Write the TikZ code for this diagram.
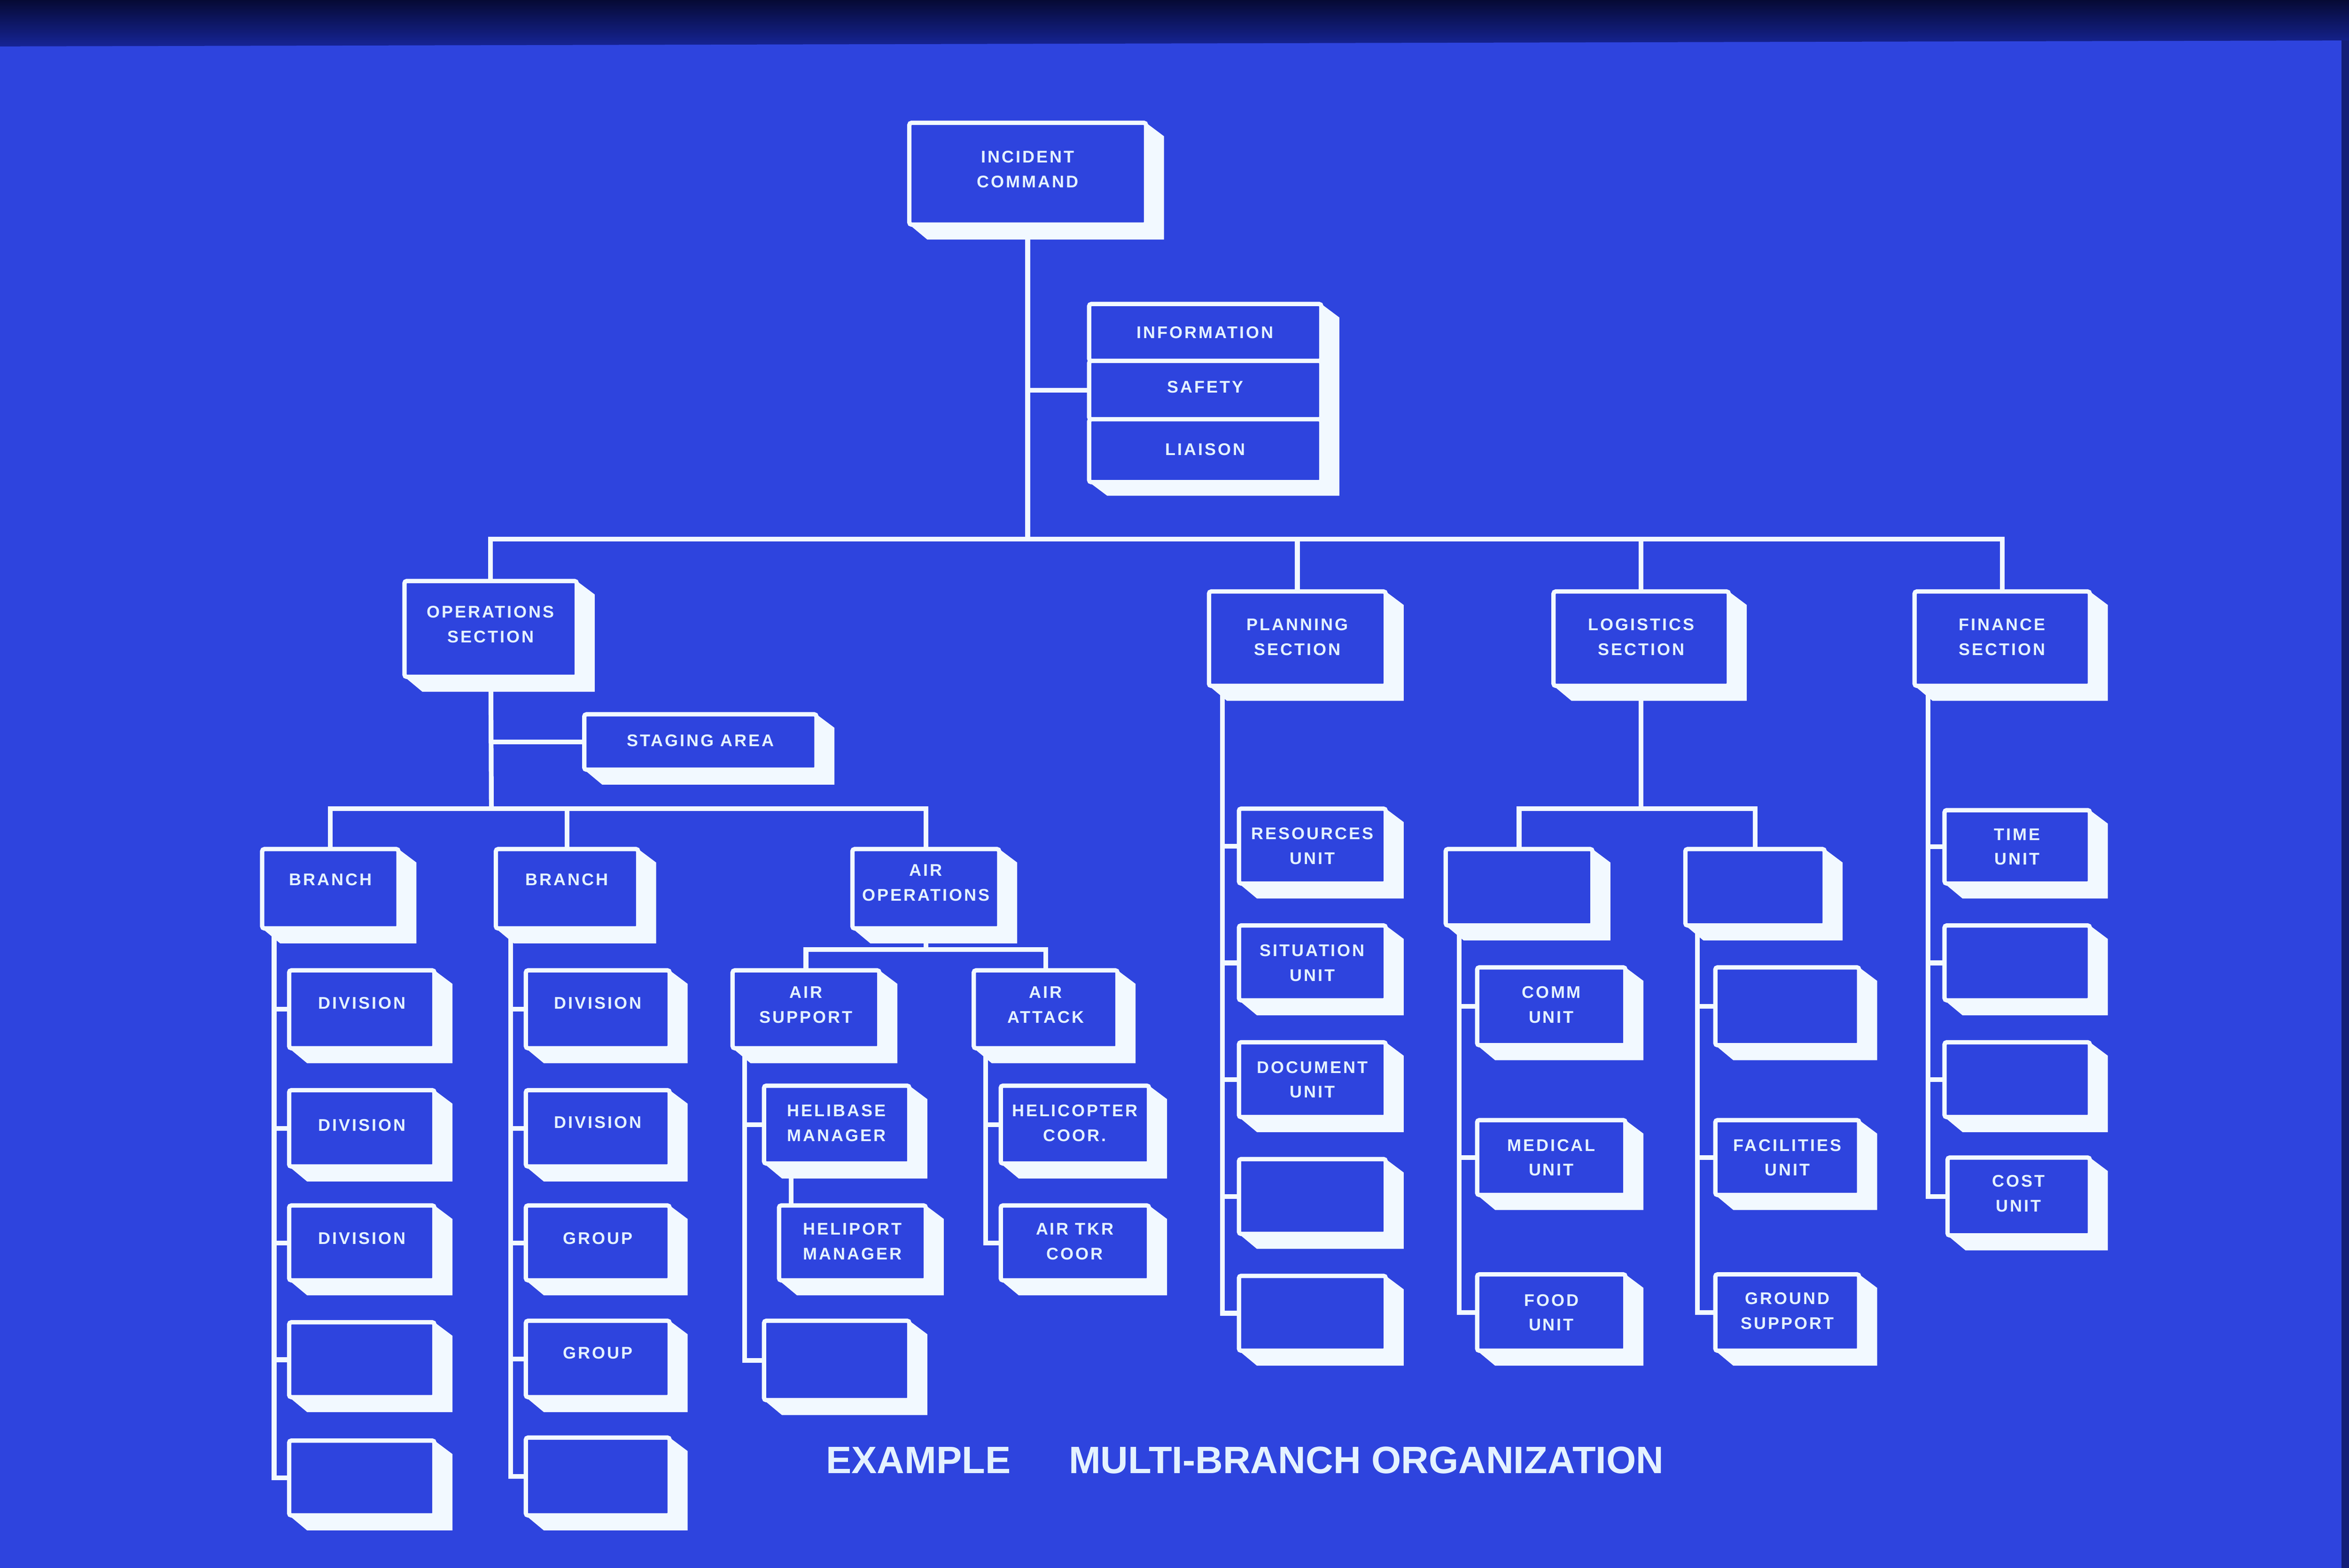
\documentclass[tikz,border=0pt]{standalone}
\usepackage{fontspec}
\setmainfont{Liberation Sans}
\newfontfamily\boxfont[LetterSpace=11]{Liberation Sans}
\newfontfamily\titlefont{Liberation Sans}
\usetikzlibrary{calc}
\definecolor{bgblue}{RGB}{46,68,222}
\definecolor{topnavy}{RGB}{6,10,52}
\definecolor{bandblue}{RGB}{22,36,150}
\definecolor{edgeblue}{RGB}{20,30,120}
\definecolor{inkwhite}{RGB}{242,249,255}
\definecolor{txtwhite}{RGB}{228,242,255}
\pgfdeclarelayer{ground}
\pgfdeclarelayer{wires}
\pgfsetlayers{ground,wires,main}
\tikzset{
  orgbox/.style={draw=inkwhite,fill=bgblue,line width=2.9pt,rounded corners=1.5pt,
    inner sep=0pt,outer sep=0pt},
  boxtxt/.style={font=\boxfont\bfseries\fontsize{11.3}{16.5}\selectfont,text=txtwhite,
    align=center,inner sep=0pt},
  titletxt/.style={font=\titlefont\bfseries\fontsize{25.5}{30}\selectfont,text=txtwhite,inner sep=0pt},
  wire/.style={draw=inkwhite,line width=3.2pt},
  extrude/.style={fill=inkwhite}
}
% \obox[text raise]{name}{L}{T}{R}{B}{text}
\newcommand\obox[7][3]{%
  \fill[extrude] (#5,#4) -- (#5+12,#4+9) -- (#5+12,#6+10) -- (#3+12,#6+10) -- (#3,#6) -- cycle;
  \pgfmathsetmacro\obw{#5-#3}%
  \pgfmathsetmacro\obh{#6-#4}%
  \node[orgbox,minimum width=\obw pt,minimum height=\obh pt] (#2) at ({(#3+#5)/2},{(#4+#6)/2}) {};
  \node[boxtxt] (#2-t) at ([yshift=#1pt]#2.center) {#7};
}
% \spinewire{parent}{xoffset}{last child}{other children}
\newcommand\spinewire[4]{%
  \coordinate (#1-sp) at ([xshift=#2pt]#1.west);
  \draw[wire] (#1-sp) |- (#3.west);
  \foreach \c in {#4} {\draw[wire] (#1-sp |- \c.west) -- (\c.west);}
}
\begin{document}
\begin{tikzpicture}[x=1pt,y=-1pt]
\useasboundingbox (0,0) rectangle (1568,1047);
\begin{pgfonlayer}{ground}
  \fill[bgblue] (0,0) rectangle (1568,1047);
  \shade[top color=topnavy,bottom color=bandblue] (0,0) -- (1568,0) -- (1568,27) -- (0,31) -- cycle;
  \fill[edgeblue] (1563,27) rectangle (1568,1047);
\end{pgfonlayer}

% ---- boxes ----
\obox{ic}{607}{82}{765}{150}{INCIDENT\\COMMAND}
\fill[extrude] (882,203) -- (894,212) -- (894,331) -- (739,331) -- (727,322) -- cycle;
\node[orgbox,minimum width=155pt,minimum height=38pt] (info) at (804.5,222) {};
\node[orgbox,minimum width=155pt,minimum height=39pt] (safety) at (804.5,260.5) {};
\node[orgbox,minimum width=155pt,minimum height=42pt] (liaison) at (804.5,301) {};
\node[boxtxt] (info-t) at ([yshift=0pt]info.center) {INFORMATION};
\node[boxtxt] (safety-t) at ([yshift=2pt]safety.center) {SAFETY};
\node[boxtxt] (liaison-t) at ([yshift=1pt]liaison.center) {LIAISON};

\obox{ops}{270}{388}{385}{452}{OPERATIONS\\SECTION}
\obox[1]{plan}{807}{395}{925}{458}{PLANNING\\SECTION}
\obox[1]{logi}{1037}{395}{1154}{458}{LOGISTICS\\SECTION}
\obox[1]{fin}{1278}{395}{1395}{458}{FINANCE\\SECTION}
\obox[1]{stage}{390}{477}{545}{514}{STAGING AREA}

\obox[6]{br1}{175}{567}{266}{620}{BRANCH}
\obox[6]{br2}{331}{567}{426}{620}{BRANCH}
\obox[4]{airops}{569}{567}{667}{620}{AIR\\OPERATIONS}

\obox[4]{b1c1}{193}{648}{290}{700}{DIVISION}
\obox[2]{b1c2}{193}{728}{290}{779}{DIVISION}
\obox[3]{b1c3}{193}{805}{290}{855}{DIVISION}
\obox{b1c4}{193}{883}{290}{933}{}
\obox{b1c5}{193}{962}{290}{1012}{}

\obox[4]{b2c1}{351}{648}{447}{700}{DIVISION}
\obox[4]{b2c2}{351}{728}{447}{779}{DIVISION}
\obox[3]{b2c3}{351}{805}{447}{855}{GROUP}
\obox[4]{b2c4}{351}{882}{447}{933}{GROUP}
\obox{b2c5}{351}{960}{447}{1012}{}

\obox[3]{airsup}{489}{648}{587}{700}{AIR\\SUPPORT}
\obox[3]{airatk}{650}{648}{746}{700}{AIR\\ATTACK}
\obox[1]{heli1}{510}{725}{607}{777}{HELIBASE\\MANAGER}
\obox[1]{heli2}{520}{805}{618}{855}{HELIPORT\\MANAGER}
\obox{as3}{510}{882}{607}{935}{}
\obox[1]{hcoor}{668}{725}{767}{777}{HELICOPTER\\COOR.}
\obox[1]{tkr}{668}{805}{767}{855}{AIR TKR\\COOR}

\obox[0]{p1}{827}{540}{925}{590}{RESOURCES\\UNIT}
\obox[0]{p2}{827}{618}{925}{668}{SITUATION\\UNIT}
\obox[0]{p3}{827}{696}{925}{746}{DOCUMENT\\UNIT}
\obox{p4}{827}{774}{925}{824}{}
\obox{p5}{827}{852}{925}{902}{}

\obox{l1}{965}{567}{1063}{618}{}
\obox{l2}{1125}{567}{1218}{618}{}
\obox[1]{l1c1}{986}{646}{1085}{698}{COMM\\UNIT}
\obox[0]{l1c2}{986}{748}{1085}{798}{MEDICAL\\UNIT}
\obox[0]{l1c3}{986}{851}{1085}{902}{FOOD\\UNIT}
\obox{l2c1}{1145}{646}{1241}{698}{}
\obox[0]{l2c2}{1145}{748}{1241}{798}{FACILITIES\\UNIT}
\obox[1]{l2c3}{1145}{851}{1241}{902}{GROUND\\SUPPORT}

\obox[0]{f1}{1298}{541}{1395}{590}{TIME\\UNIT}
\obox{f2}{1298}{618}{1395}{668}{}
\obox{f3}{1298}{696}{1395}{746}{}
\obox[2]{f4}{1300}{773}{1395}{825}{COST\\UNIT}

% ---- title ----
\node[titletxt] (title1) at (613,975) {EXAMPLE};
\node[titletxt] (title2) at (912,975) {MULTI-BRANCH ORGANIZATION};

% ---- connectors ----
\begin{pgfonlayer}{wires}
  \coordinate (topbus) at (686,360);
  \draw[wire] (ic.center) -- (topbus);
  \draw[wire] (ic.center |- safety.west) -- (safety.west);
  \draw[wire] (ops.center) -- (ops.center |- topbus) -- (fin.center |- topbus) -- (fin.center);
  \draw[wire] (plan.center) -- (plan.center |- topbus);
  \draw[wire] (logi.center) -- (logi.center |- topbus);

  \coordinate (opsbus) at (328,540);
  \draw[wire] (ops.center) -- (opsbus);
  \draw[wire] (stage.west) -- (stage.west -| ops.center);
  \draw[wire] (br1.center) -- (br1.center |- opsbus) -- (airops.center |- opsbus) -- (airops.center);
  \draw[wire] (br2.center) -- (br2.center |- opsbus);

  \coordinate (airbus) at (618,634);
  \draw[wire] (airops.center) -- (airbus);
  \draw[wire] (airsup.center) -- (airsup.center |- airbus) -- (airatk.center |- airbus) -- (airatk.center);

  \coordinate (logbus) at (1095.5,540);
  \draw[wire] (logi.center) -- (logbus);
  \draw[wire] (l1.center) -- (l1.center |- logbus) -- (l2.center |- logbus) -- (l2.center);

  \spinewire{br1}{8}{b1c5}{b1c1,b1c2,b1c3,b1c4}
  \spinewire{br2}{10}{b2c5}{b2c1,b2c2,b2c3,b2c4}
  \spinewire{airsup}{8}{as3}{heli1}
  \draw[wire] ([xshift=8pt]heli2.north west) -- ([xshift=8pt]heli2.north west |- heli1.center);
  \spinewire{airatk}{8}{tkr}{hcoor}
  \spinewire{plan}{9}{p5}{p1,p2,p3,p4}
  \spinewire{l1}{9}{l1c3}{l1c1,l1c2}
  \spinewire{l2}{8}{l2c3}{l2c1,l2c2}
  \spinewire{fin}{9}{f4}{f1,f2,f3}
\end{pgfonlayer}
\end{tikzpicture}
\end{document}
